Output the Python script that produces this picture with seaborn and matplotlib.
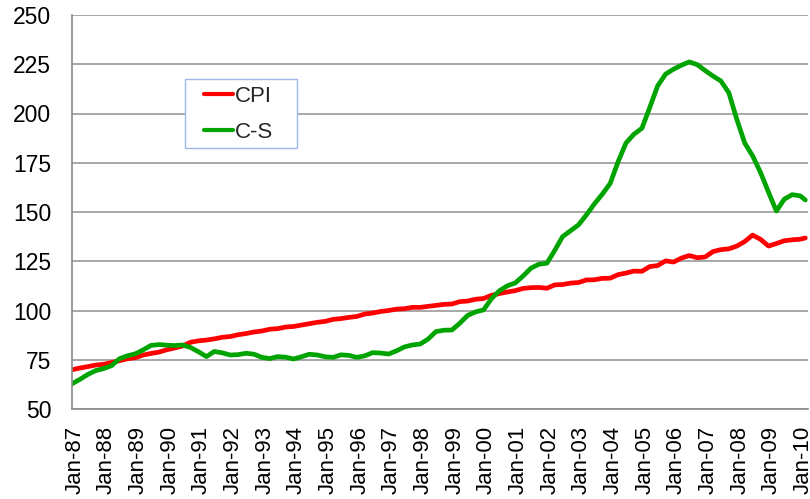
import matplotlib
matplotlib.use("Agg")
import matplotlib.pyplot as plt
import matplotlib.transforms as mtransforms
from matplotlib.patches import Rectangle
import seaborn as sns
import pandas as pd

# Quarterly observations (Jan, Apr, Jul, Oct) from Jan-87 to Jan-10, plus Mar-10
months = list(pd.date_range("1987-01-01", "2010-01-01", freq="QS").strftime("%Y-%m")) + ["2010-03"]

cpi = [69.9, 70.8, 71.5, 72.3,
       72.7, 73.6, 74.5, 75.5,
       76.1, 77.4, 78.2, 78.9,
       80.1, 81.0, 82.0, 83.9,
       84.6, 85.0, 85.6, 86.4,
       86.8, 87.7, 88.3, 89.1,
       89.6, 90.5, 90.8, 91.6,
       91.9, 92.6, 93.3, 94.0,
       94.5, 95.5, 95.9, 96.5,
       97.0, 98.2, 98.7, 99.5,
       100.0, 100.7, 100.9, 101.6,
       101.6, 102.1, 102.6, 103.1,
       103.3, 104.5, 104.8, 105.7,
       106.1, 107.7, 108.6, 109.4,
       110.1, 111.2, 111.6, 111.7,
       111.3, 113.0, 113.2, 113.9,
       114.2, 115.5, 115.6, 116.3,
       116.4, 118.2, 119.0, 120.0,
       119.9, 122.3, 122.8, 125.2,
       124.6, 126.6, 127.9, 126.8,
       127.2, 129.9, 130.9, 131.3,
       132.7, 135.0, 138.3, 136.1,
       132.7, 134.0, 135.4, 135.9,
       136.2, 136.8]

cs = [62.8, 65.0, 67.5, 69.5,
      70.5, 72.0, 75.5, 77.0,
      78.0, 80.0, 82.3, 82.7,
      82.4, 82.2, 82.5, 81.2,
      79.0, 76.6, 79.2, 78.5,
      77.4, 77.6, 78.3, 77.8,
      76.2, 75.6, 76.6, 76.3,
      75.4, 76.5, 77.8, 77.4,
      76.5, 76.2, 77.5, 77.2,
      76.2, 77.0, 78.6, 78.4,
      77.9, 79.5, 81.5, 82.5,
      83.0, 85.5, 89.3, 90.0,
      90.1, 93.5, 97.5, 99.3,
      100.3, 106.0, 110.0, 112.5,
      114.0, 117.5, 121.5, 123.5,
      124.0, 130.5, 137.5, 140.5,
      143.5, 148.5, 154.0, 159.0,
      164.5, 175.5, 185.0, 189.5,
      192.5, 203.0, 214.0, 220.0,
      222.5, 224.5, 226.2, 224.8,
      221.8, 219.0, 216.5, 210.5,
      197.0, 185.0, 178.5, 170.0,
      160.0, 150.5, 156.5, 158.8,
      158.2, 156.1]

series_names = ["CPI", "C-S"]
series_colors = ["#FF0000", "#00A400"]
tick_years = list(range(1987, 2011))
tick_labels = [f"Jan-{y % 100:02d}" for y in tick_years]
y_ticks = [50, 75, 100, 125, 150, 175, 200, 225, 250]

sns.set_style("white")
plt.rcParams["font.family"] = ["Liberation Sans", "DejaVu Sans"]

dates = pd.to_datetime(months)
df = pd.concat([
    pd.DataFrame({"date": dates, "value": cpi, "series": series_names[0]}),
    pd.DataFrame({"date": dates, "value": cs, "series": series_names[1]}),
])

W, H = 810, 499
fig = plt.figure(figsize=(W / 100, H / 100), dpi=100)
ax = fig.add_axes([72 / W, 1 - 409 / H, (808 - 72) / W, (409 - 15) / H])

sns.lineplot(data=df, x="date", y="value", hue="series",
             palette=dict(zip(series_names, series_colors)),
             linewidth=3.4, ax=ax, legend=True)

ax.set_ylim(50, 250)
ax.set_yticks(y_ticks)
ax.set_xlim(pd.Timestamp("1987-01-01"), pd.Timestamp("2010-04-01"))
ax.set_xticks([pd.Timestamp(f"{y}-01-01") for y in tick_years])
ax.set_xticklabels(tick_labels, rotation=90)
ax.set_xlabel("")
ax.set_ylabel("")

ax.grid(axis="y", color="#9a9a9a", linewidth=1.2)
ax.grid(axis="x", visible=False)
ax.set_axisbelow(True)
for s in ["top", "right"]:
    ax.spines[s].set_visible(False)
for s in ["left", "bottom"]:
    ax.spines[s].set_color("#8a8a8a")
    ax.spines[s].set_linewidth(1.2)

ax.tick_params(axis="y", length=0, pad=15, labelsize=16.5, labelcolor="black")
ax.tick_params(axis="x", length=0, pad=12, labelsize=16, labelcolor="black")
offset = mtransforms.ScaledTranslation(3 / 100, 0, fig.dpi_scale_trans)
for lab in ax.get_xticklabels():
    lab.set_transform(lab.get_transform() + offset)

# legend box
ax.add_patch(Rectangle((185 / W, 1 - 148.3 / H), (297 - 185) / W, (148.3 - 79) / H,
                       transform=fig.transFigure, facecolor="white",
                       edgecolor="#9db8e8", linewidth=1.0, zorder=4, clip_on=False))
handles, labels = ax.get_legend_handles_labels()
leg = ax.legend(handles, labels, loc="upper left",
                bbox_to_anchor=(204 / W, 1 - 86 / H), bbox_transform=fig.transFigure,
                fontsize=16, frameon=False, handlelength=1.3,
                handletextpad=0.08, borderpad=0, labelspacing=0.66,
                borderaxespad=0)
for line in leg.get_lines():
    line.set_linewidth(3.0)

fig.savefig("out.png", dpi=100)
